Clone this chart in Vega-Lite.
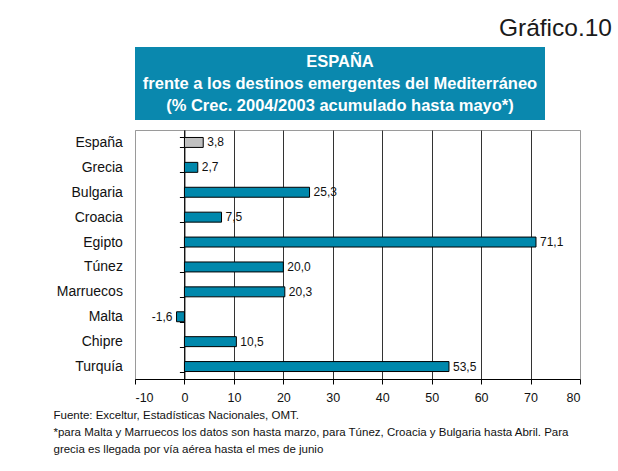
{
  "$schema": "https://vega.github.io/schema/vega-lite/v6.json",
  "padding": {"left": 52, "top": 15, "right": 5, "bottom": 5},
  "background": "white",
  "title": {"text": "Gráfico.10", "anchor": "end", "fontSize": 24.5, "fontWeight": "normal", "font": "Liberation Sans", "color": "#1a1a1a", "offset": 6, "frame": "bounds", "dx": 31},
  "bounds": "flush",
  "spacing": 10,
  "vconcat": [
    {
      "width": 410,
      "height": 73,
      "view": {"fill": "#0A88AE", "stroke": null},
      "data": {"values": [{"t": "ESPAÑA\nfrente a los destinos emergentes del Mediterráneo\n(% Crec. 2004/2003 acumulado  hasta mayo*)"}]},
      "mark": {"type": "text", "lineBreak": "\n", "lineHeight": 22, "fontSize": 16.5, "fontWeight": "bold", "color": "white", "baseline": "middle", "align": "center", "dy": -22, "font": "Liberation Sans"},
      "encoding": {"text": {"field": "t", "type": "nominal"}}
    },
    {
      "width": 445,
      "height": 249,
      "view": {"stroke": "#9a9a9a", "strokeWidth": 1},
      "data": {"values": [
        {"pais": "España", "v": 3.8},
        {"pais": "Grecia", "v": 2.7},
        {"pais": "Bulgaria", "v": 25.3},
        {"pais": "Croacia", "v": 7.5},
        {"pais": "Egipto", "v": 71.1},
        {"pais": "Túnez", "v": 20.0},
        {"pais": "Marruecos", "v": 20.3},
        {"pais": "Malta", "v": -1.6},
        {"pais": "Chipre", "v": 10.5},
        {"pais": "Turquía", "v": 53.5}
      ]},
      "encoding": {
        "y": {"field": "pais", "type": "nominal", "sort": null,
          "scale": {"paddingInner": 0.6, "paddingOuter": 0.3},
          "axis": {"title": null, "orient": "left", "offset": -49.4, "domainColor": "#000", "tickColor": "#000", "tickBand": "extent", "tickSize": 5, "labelPadding": 57, "labelFontSize": 14, "labelColor": "#111", "labelFont": "Liberation Sans", "grid": false}
        }
      },
      "layer": [
        {
          "mark": {"type": "bar", "stroke": "#000", "strokeWidth": 1},
          "encoding": {
            "x": {"field": "v", "type": "quantitative",
              "scale": {"domain": [-10, 80], "nice": false, "zero": true},
              "axis": {
                "values": [-10, 0, 10, 20, 30, 40, 50, 60, 70, 80],
                "format": "d",
                "grid": true,
                "gridColor": {"condition": {"test": "datum.value === -10 || datum.value === 80", "value": "#9a9a9a"}, "value": "#333"},
                "gridWidth": 1,
                "domainColor": "#000", "tickColor": "#000", "tickSize": 5,
                "labelFontSize": 12.5, "labelPadding": 7, "labelColor": "#111", "labelFont": "Liberation Sans",
                "title": ["Fuente: Exceltur, Estadísticas Nacionales, OMT.", "*para Malta y Marruecos los datos son hasta marzo, para Túnez, Croacia y Bulgaria hasta Abril. Para", "grecia es llegada por vía aérea hasta el mes de junio"],
                "titleAnchor": "start", "titleAlign": "left", "titleX": -82, "titleY": 39, "titleBaseline": "alphabetic",
                "titleFontSize": 11.5, "titleFontWeight": "normal", "titleLineHeight": 17, "titleColor": "#111", "titleFont": "Liberation Sans"
              }
            },
            "fill": {"condition": {"test": "datum.pais === 'España'", "value": "#C0C0C0"}, "value": "#0088AC"}
          }
        },
        {
          "transform": [{"filter": "datum.v >= 0"}],
          "mark": {"type": "text", "align": "left", "baseline": "middle", "dx": 4, "fontSize": 12, "color": "#111", "font": "Liberation Sans"},
          "encoding": {
            "x": {"field": "v", "type": "quantitative"},
            "text": {"field": "v", "type": "quantitative", "format": ".1f"}
          }
        },
        {
          "transform": [{"filter": "datum.v < 0"}],
          "mark": {"type": "text", "align": "right", "baseline": "middle", "dx": -4, "fontSize": 12, "color": "#111", "font": "Liberation Sans"},
          "encoding": {
            "x": {"field": "v", "type": "quantitative"},
            "text": {"field": "v", "type": "quantitative", "format": ".1f"}
          }
        }
      ]
    }
  ],
  "config": {
    "font": "Liberation Sans",
    "locale": {"number": {"decimal": ",", "thousands": ".", "grouping": [3], "currency": ["", " €"], "minus": "-"}}
  }
}
